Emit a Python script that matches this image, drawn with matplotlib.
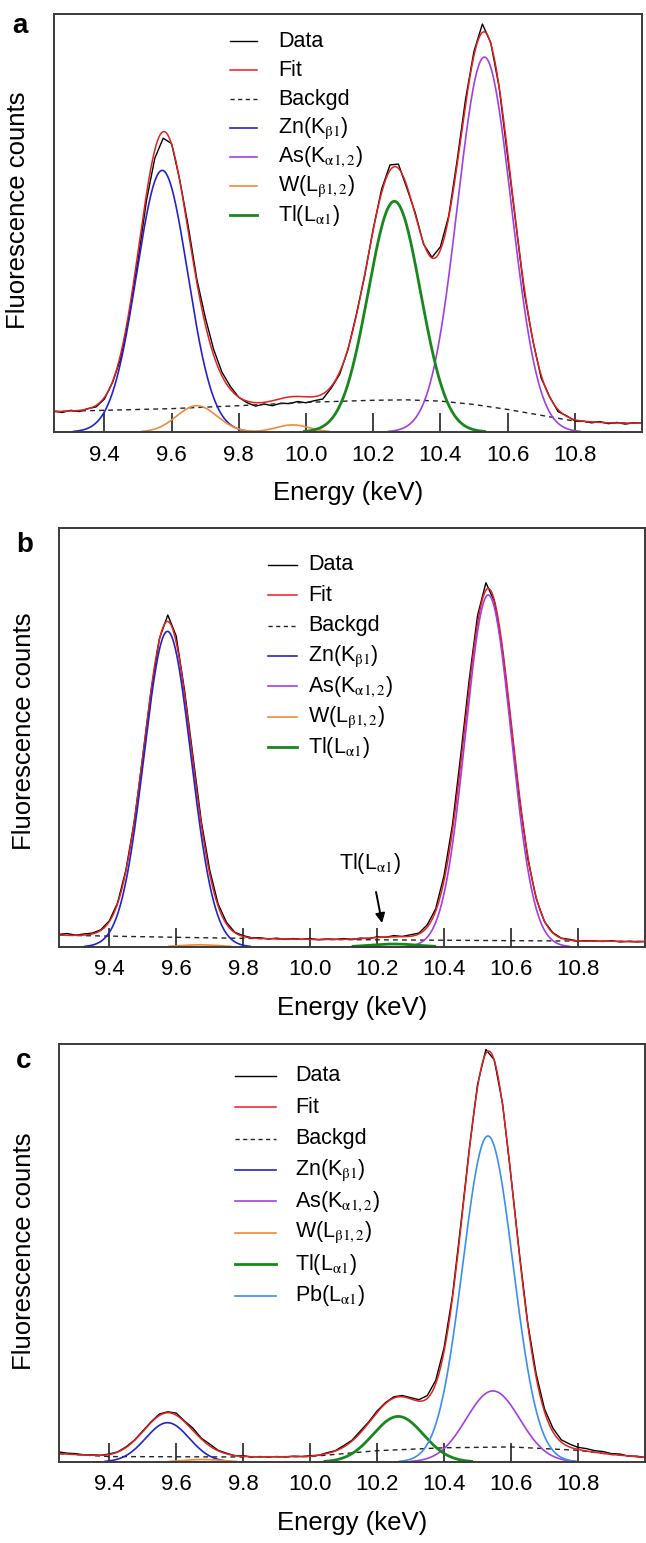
import numpy as np
import matplotlib.pyplot as plt

plt.rcParams['font.family'] = ['Liberation Sans', 'DejaVu Sans']
plt.rcParams['mathtext.fontset'] = 'stix'

# measured spectra, counts per 25 eV channel
energy = np.round(np.arange(9.25, 11.0001, 0.025), 3)

counts_a = [50, 47, 52, 49, 56, 60, 79, 120, 180, 284, 410,
            553, 655, 703, 690, 600, 490, 366, 275, 198, 143,
            109, 83, 70, 62, 67, 63, 69, 68, 73, 70,
            75, 79, 105, 138, 197, 282, 375, 486, 581, 639,
            641, 584, 525, 449, 418, 443, 518, 651, 797, 911,
            976, 931, 824, 659, 496, 332, 220, 129, 85, 49,
            39, 27, 26, 22, 25, 20, 23, 19, 22, 21]
counts_b = [30, 32, 28, 31, 33, 41, 62, 105, 184, 300, 453,
            611, 736, 792, 742, 612, 456, 300, 184, 103, 59,
            35, 27, 22, 22, 19, 21, 18, 20, 18, 20,
            17, 19, 18, 20, 18, 21, 20, 24, 23, 27,
            25, 29, 33, 53, 91, 171, 291, 459, 637, 791,
            869, 825, 703, 527, 353, 211, 116, 60, 34, 21,
            18, 14, 15, 14, 13, 15, 12, 13, 12, 13]
counts_c = [24, 21, 20, 17, 17, 16, 19, 24, 36, 52, 74,
            96, 115, 120, 117, 98, 81, 57, 43, 28, 21,
            15, 15, 12, 13, 12, 13, 12, 14, 13, 15,
            16, 22, 27, 39, 52, 74, 96, 122, 142, 156,
            159, 154, 149, 159, 195, 273, 397, 568, 747, 903,
            987, 962, 856, 683, 499, 332, 211, 127, 81, 53,
            43, 35, 32, 27, 25, 20, 19, 14, 14, 11]

# background under the peaks
bg_e_a = [9.25, 9.4, 9.6, 9.8, 10.0, 10.2, 10.3, 10.4, 10.5, 10.6, 10.7, 10.8, 10.9, 11.0]
bg_a = [49, 52, 56, 63, 71, 76, 77, 74, 66, 54, 40, 26, 22, 21]
bg_e_b = [9.25, 9.6, 10.0, 10.4, 10.8, 11.0]
bg_b = [28, 23, 18, 16, 14, 13]
bg_e_c = [9.25, 9.4, 9.8, 10.0, 10.2, 10.4, 10.6, 10.8, 10.9, 11.0]
bg_c = [20, 13, 12, 13, 27, 34, 36, 28, 18, 11]

# fitted lines: element, centre (keV), height, sigma (keV)
elem_a = ['Zn', 'W', 'W', 'Tl', 'As']
centre_a = [9.572, 9.675, 9.96, 10.263, 10.531]
height_a = [626, 63, 17, 552, 897]
sigma_a = [0.076, 0.06, 0.05, 0.078, 0.080]
fit_height_a = [633, 85, 15, 555, 893]
fit_sigma_a = [0.070, 0.070, 0.05, 0.080, 0.080]

elem_b = ['Zn', 'W', 'Tl', 'As']
centre_b = [9.574, 9.67, 10.25, 10.532]
height_b = [753, 5, 7, 840]
sigma_b = [0.070, 0.06, 0.07, 0.068]
fit_height_b = [752, 5, 7, 840]
fit_sigma_b = [0.070, 0.06, 0.07, 0.070]

elem_c = ['Zn', 'W', 'Tl', 'Pb', 'As']
centre_c = [9.574, 9.68, 10.263, 10.531, 10.546]
height_c = [94, 6, 109, 780, 170]
sigma_c = [0.065, 0.06, 0.075, 0.075, 0.08]
fit_height_c = [104, 6, 125, 780, 170]
fit_sigma_c = [0.070, 0.06, 0.080, 0.075, 0.08]

colors = {'Zn': '#2323c8', 'As': '#a23fe3', 'W': '#f08a3c',
          'Tl': '#17881c', 'Pb': '#3b8ef0'}
widths = {'Zn': 1.2, 'As': 1.2, 'W': 1.2, 'Tl': 2.0, 'Pb': 1.2}
labels = {'Zn': r'Zn(K$_{\mathrm{\beta}1}$)',
          'As': r'As(K$_{\mathrm{\alpha}1,2}$)',
          'W': r'W(L$_{\mathrm{\beta}1,2}$)',
          'Tl': r'Tl(L$_{\mathrm{\alpha}1}$)',
          'Pb': r'Pb(L$_{\mathrm{\alpha}1}$)'}

x = np.linspace(9.25, 11.0, 1400)


def gauss(e, c, h, s):
    return h * np.exp(-(e - c) ** 2 / (2 * s ** 2))


def panel(ax, counts, bg_e, bg, elem, centre, height, sigma, fh, fs, key, ylab_y):
    back = np.interp(x, bg_e, bg)
    fit = back + sum(gauss(x, c, h, s) for c, h, s in zip(centre, fh, fs))

    ax.plot(energy, counts, color='black', lw=1.0, zorder=3)
    ax.plot(x, fit, color='#e3211f', lw=1.1, zorder=4)
    ax.plot(bg_e, bg, color='#222222', lw=1.0, ls=(0, (3.5, 3)), zorder=3)

    order = [k for k in ['Zn', 'As', 'W', 'Tl', 'Pb'] if k in elem]
    for name in order:
        y = sum(gauss(x, c, h, s) for c, h, s, e in zip(centre, height, sigma, elem) if e == name)
        y = np.where(y > 1.5, y, np.nan)
        ax.plot(x, y, color=colors[name], lw=widths[name], zorder=5)

    ax.set_xlim(9.25, 11.0)
    ax.set_ylim(0, 1000)
    ax.set_xticks([9.4, 9.6, 9.8, 10.0, 10.2, 10.4, 10.6, 10.8])
    ax.set_xticklabels(['9.4', '9.6', '9.8', '10.0', '10.2', '10.4', '10.6', '10.8'])
    ax.set_yticks([])
    ax.tick_params(axis='x', direction='in', length=14, width=1.3, color='#333333',
                   labelsize=16, pad=9)
    for sp in ax.spines.values():
        sp.set_linewidth(1.4)
        sp.set_color('#3a3a3a')
        sp.set_zorder(6)
    ax.set_xlabel('Energy (keV)', fontsize=18.5, labelpad=11)
    ax.set_ylabel('Fluorescence counts', fontsize=18.5)
    ax.yaxis.set_label_coords(-0.04, ylab_y)

    # legend drawn by hand so that the rows sit on an even pitch
    x0, x1, xt, y0, dy = key
    entries = [('Data', 'black', 1.0, '-'), ('Fit', '#e3211f', 1.1, '-'),
               ('Backgd', '#222222', 1.0, (0, (3, 2.5)))]
    entries += [(labels[n], colors[n], widths[n], '-') for n in order]
    for i, (lab, col, lw, ls) in enumerate(entries):
        yy = y0 - i * dy
        ax.plot([x0, x1], [yy, yy], color=col, lw=lw, ls=ls,
                transform=ax.transAxes, clip_on=False)
        ax.text(xt, yy, lab, transform=ax.transAxes, fontsize=15.5, va='center')


fig = plt.figure(figsize=(6.46, 15.43), dpi=100)
ax_a = fig.add_axes([0.0836, 0.7200, 0.9102, 0.2709])
ax_b = fig.add_axes([0.0913, 0.3863, 0.9071, 0.2716])
ax_c = fig.add_axes([0.0913, 0.0525, 0.9071, 0.2709])

panel(ax_a, counts_a, bg_e_a, bg_a, elem_a, centre_a, height_a, sigma_a,
      fit_height_a, fit_sigma_a, (0.299, 0.345, 0.381, 0.935, 0.0694), 0.53)
panel(ax_b, counts_b, bg_e_b, bg_b, elem_b, centre_b, height_b, sigma_b,
      fit_height_b, fit_sigma_b, (0.357, 0.406, 0.425, 0.912, 0.0726), 0.515)
panel(ax_c, counts_c, bg_e_c, bg_c, elem_c, centre_c, height_c, sigma_c,
      fit_height_c, fit_sigma_c, (0.300, 0.370, 0.403, 0.924, 0.0751), 0.505)

ax_b.annotate(labels['Tl'], xy=(10.215, 57), xytext=(10.18, 200),
              fontsize=15.5, ha='center', va='center',
              arrowprops=dict(arrowstyle='-|>', color='black', lw=1.4,
                              shrinkA=10, shrinkB=0, mutation_scale=14))

for lab, xf, yp in [('a', 12, 33), ('b', 16, 552), ('c', 16, 1068)]:
    fig.text(xf / 646, 1 - yp / 1543, lab, fontsize=20, fontweight='bold', va='baseline')

fig.savefig('out.png', dpi=100)
